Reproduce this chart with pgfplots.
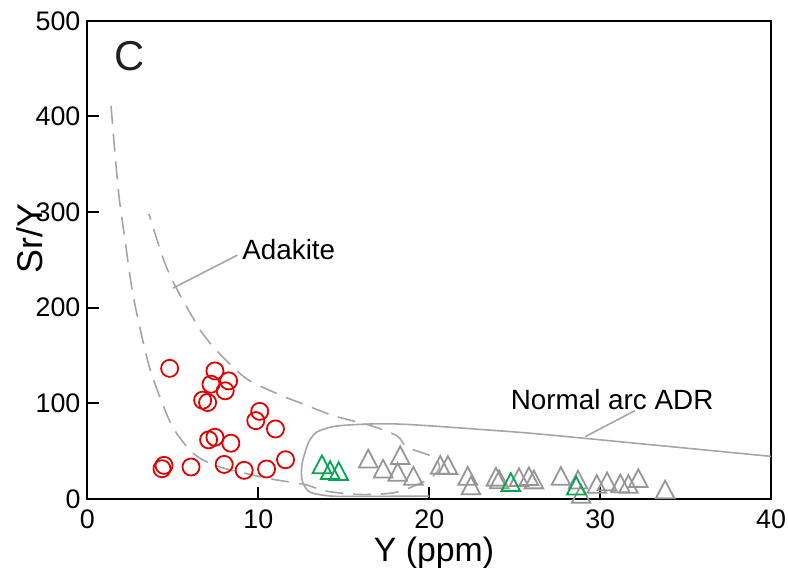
\documentclass[border=0pt]{standalone}
\usepackage{fontspec}
\setmainfont{Liberation Sans}
\usepackage{pgfplots}
\pgfplotsset{compat=1.18}
\definecolor{redpt}{RGB}{228,0,0}
\definecolor{greenpt}{RGB}{0,166,80}
\definecolor{graypt}{RGB}{150,150,150}
\definecolor{fieldgray}{RGB}{165,165,165}
\definecolor{labelc}{RGB}{35,31,32}

\begin{document}
\begin{tikzpicture}
\useasboundingbox (-44pt,-38pt) rectangle (352.5pt,251pt);
\begin{axis}[
  at={(0,0)}, anchor=south west,
  scale only axis, width=344pt, height=240.5pt,
  xmin=0, xmax=40, ymin=0, ymax=500,
  xtick={0,10,...,40}, ytick={0,100,...,500},
  tick align=inside, tick pos=left,
  major tick length=6pt,
  every tick/.style={black, line width=1pt},
  axis line style={line width=1pt},
  clip=false,
  /pgf/number format/assume math mode=true,
  tick label style={font=\fontsize{13.5}{16}\selectfont},
  xticklabel style={yshift=-2pt},
  xlabel={Y (ppm)}, ylabel={Sr/Y},
  label style={font=\fontsize{17}{20}\selectfont},
  xlabel style={at={(axis description cs:0.507,-0.112)}, anchor=center},
  ylabel style={at={(axis description cs:-0.0843,0.545)}, anchor=center, font=\fontsize{18}{20}\selectfont},
]
% Adakite field (dashed)
\addplot[fieldgray, line width=0.8pt, dash pattern=on 9pt off 5pt, smooth, tension=0.5] coordinates {
  (1.38,411) (1.8,324) (2.19,272) (2.67,213) (3.5,146) (4.1,113) (4.9,78)
  (5.68,57.5) (6.45,44) (7.8,33) (10.7,21) (12.7,15) (14,8) (16,4.5)
  (18.1,7) (20,21) (20.6,33) (20.2,44) (18.7,54) (18.1,66) (16.5,77)
  (14.4,87) (12.5,100) (11.1,110) (9.2,127) (7.3,160) (6.65,175)
  (5.3,217) (4.5,248) (3.6,298)
};
% Normal arc ADR field (solid)
\addplot[fieldgray, line width=0.8pt, smooth, tension=0.5] coordinates {
  (40,44.4) (27.4,66.2) (23.9,71.4) (18.1,78.3) (14.8,76.6) (13.6,71.4)
  (13.2,66.2) (12.9,57.5) (12.56,36.7) (12.56,19.4) (13.0,7.3) (14.2,3)
  (16,2.6) (20,2.8)
};
% leader lines
\addplot[fieldgray, line width=0.8pt] coordinates {(5.0,220.4) (8.78,255)};
\addplot[fieldgray, line width=0.8pt] coordinates {(29.13,65.1) (32.03,92.2)};

% gray triangles
\addplot[only marks, mark=triangle, mark size=5.4pt, graypt, line width=0.9pt,
  mark options={solid, yscale=1.1}] coordinates {
  (16.43,39) (17.3,28.5) (18.3,42.6) (18.15,25) (19.07,21) (20.64,32.4)
  (21.09,32.3) (22.25,21) (22.44,11) (23.9,20) (24.09,17.2) (25.25,19.5)
  (25.83,20.5) (26.12,17.1) (27.7,20.8) (28.7,17) (28.88,2) (29.8,12.5)
  (30.4,15.2) (31.18,13) (31.65,12.5) (32.23,18.5) (33.8,6.7)
};
% green triangles
\addplot[only marks, mark=triangle, mark size=5.4pt, greenpt, line width=0.9pt,
  mark options={solid, yscale=1.1}] coordinates {
  (13.72,33) (14.2,27) (14.7,26) (24.77,14.5) (28.6,10.7)
};
% red circles
\addplot[only marks, mark=o, mark size=4.3pt, redpt, line width=0.9pt] coordinates {
  (4.81,136.5) (7.46,133.8) (7.23,119.9) (8.26,123.4) (8.06,113)
  (6.74,103.2) (7.03,100.8) (10.08,91.5) (9.85,81.8) (11.0,73.1)
  (7.46,64.4) (7.09,61.7) (8.39,58.2) (4.48,35) (4.36,31.5) (6.06,33.3)
  (8.0,36) (9.17,29.8) (10.48,31.2) (11.59,40.9)
};

\node[font=\fontsize{14}{16}\selectfont] at (axis cs:11.78,260.9) {Adakite};
\node[font=\fontsize{14}{16}\selectfont] at (axis cs:30.7,104) {Normal arc ADR};
\node[font=\fontsize{21}{24}\selectfont, text=labelc] at (axis cs:2.47,462.6) {C};
\end{axis}
\end{tikzpicture}
\end{document}
